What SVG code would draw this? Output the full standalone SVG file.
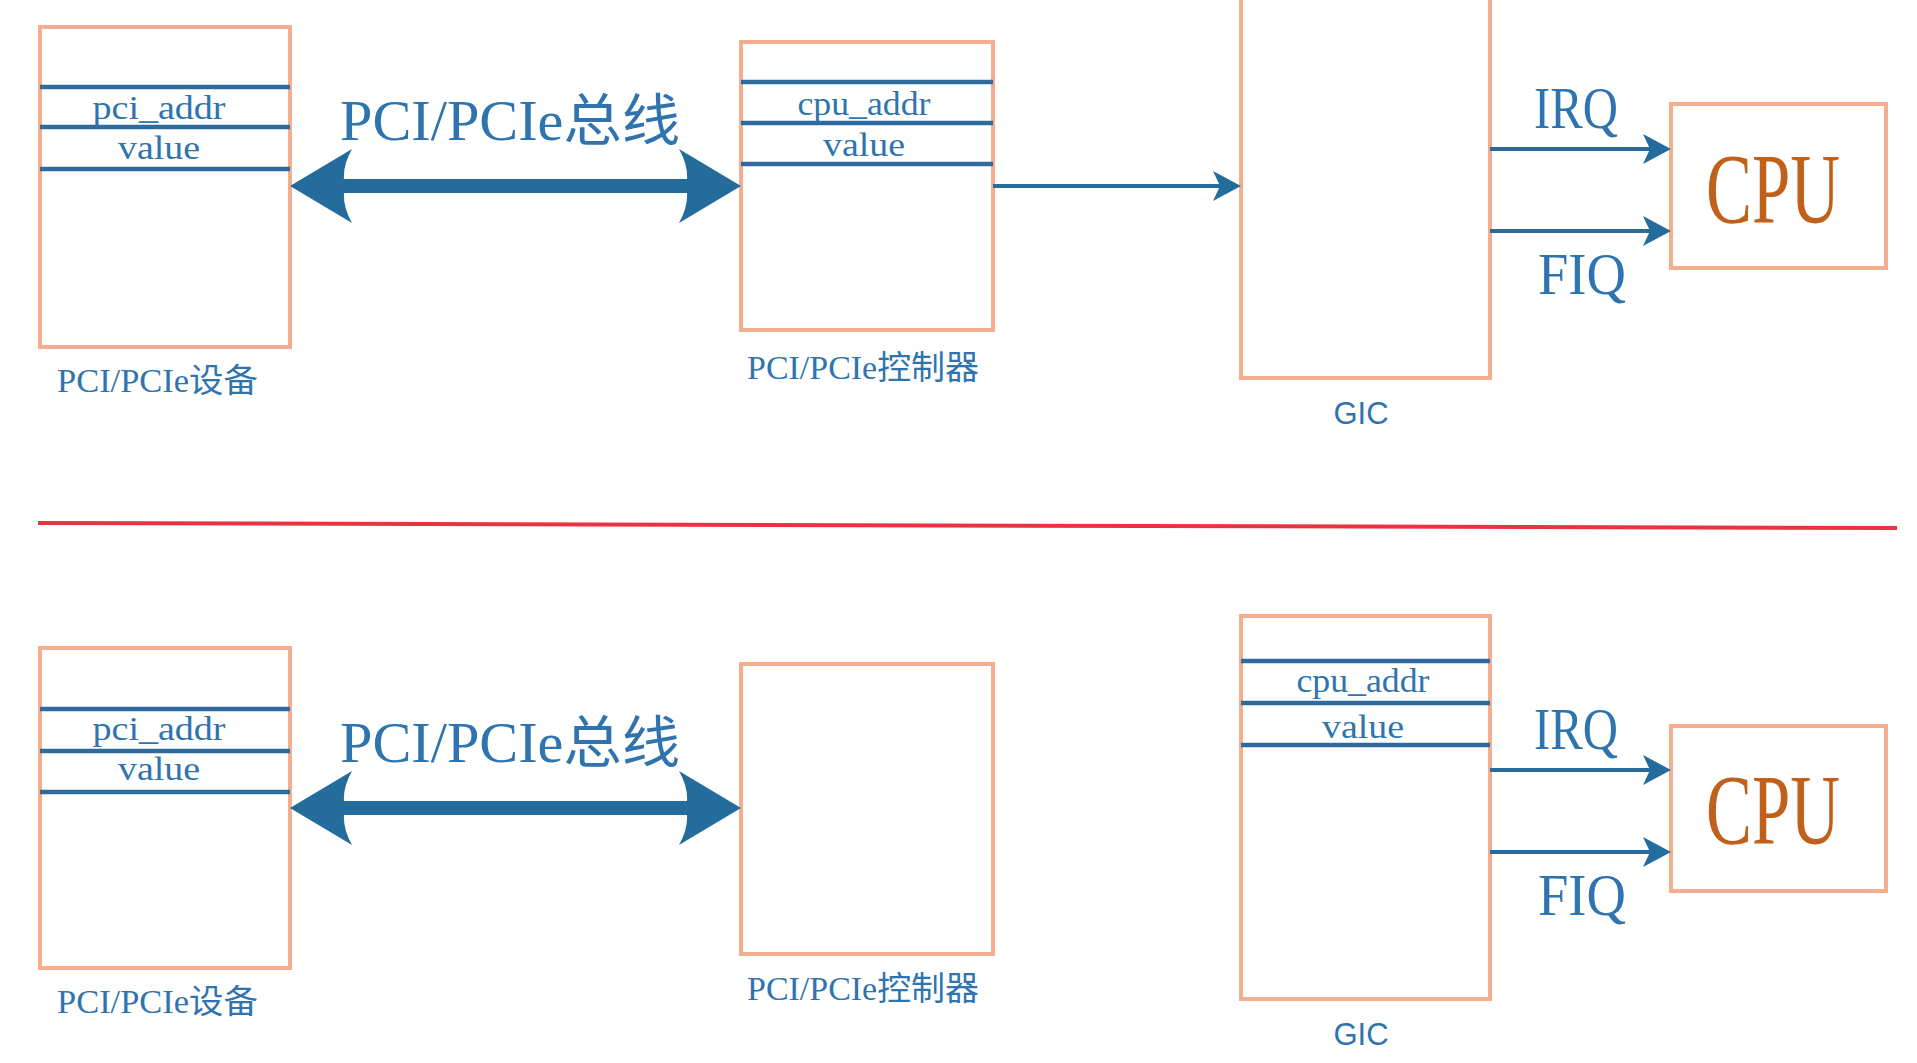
<svg xmlns="http://www.w3.org/2000/svg" width="1917" height="1063" viewBox="0 0 1917 1063">
<style>
.box{fill:#fff;stroke:#F4AE8E;stroke-width:4}
.reg{stroke:#2E6B9C;stroke-width:4.5}
.wire{stroke:#2A6B9D;stroke-width:4;fill:none}
.head{fill:#236C9C}
.t{font-family:"Liberation Serif","Noto Sans CJK SC",serif;fill:#2F74AE}
.cjk{font-family:"Liberation Serif","Noto Sans CJK SC",sans-serif;fill:#2F74AE}
.gic{font-family:"Liberation Sans",Arial,sans-serif;fill:#2F74AE;font-size:31px}
.cpu{font-family:"Liberation Serif",serif;fill:#C0601A;font-size:100px}
</style>
<defs>
<path id="dbl" d="M290,186 L352,149 Q343,165 344,179 L687,179 Q688,165 679,149 L741,186 L679,223 Q688,207 687,193 L344,193 Q343,207 352,223 Z"/>
<path id="ah" d="M0,0 L-28,-15 L-21,0 L-28,15 Z"/>
</defs>

<!-- separator -->
<line x1="38" y1="523" x2="1897" y2="528" stroke="#EA3340" stroke-width="4"/>

<!-- ===== TOP ===== -->
<g id="top-device">
<rect class="box" x="40" y="27" width="250" height="320"/>
<line class="reg" x1="40" y1="87" x2="290" y2="87"/>
<line class="reg" x1="40" y1="127" x2="290" y2="127"/>
<line class="reg" x1="40" y1="169" x2="290" y2="169"/>
<text class="t" x="159" y="119" font-size="33" text-anchor="middle" textLength="133" lengthAdjust="spacingAndGlyphs">pci_addr</text>
<text class="t" x="159" y="159" font-size="33" text-anchor="middle" textLength="82" lengthAdjust="spacingAndGlyphs">value</text>
<text class="cjk" x="57" y="392" font-size="33" textLength="201" lengthAdjust="spacingAndGlyphs">PCI/PCIe设备</text>
</g>

<g id="top-controller">
<rect class="box" x="741" y="42" width="252" height="288"/>
<line class="reg" x1="741" y1="82" x2="993" y2="82"/>
<line class="reg" x1="741" y1="123" x2="993" y2="123"/>
<line class="reg" x1="741" y1="164" x2="993" y2="164"/>
<text class="t" x="864" y="115" font-size="33" text-anchor="middle" textLength="133" lengthAdjust="spacingAndGlyphs">cpu_addr</text>
<text class="t" x="864" y="156" font-size="33" text-anchor="middle" textLength="82" lengthAdjust="spacingAndGlyphs">value</text>
<text class="cjk" x="747" y="379" font-size="33" textLength="232" lengthAdjust="spacingAndGlyphs">PCI/PCIe控制器</text>
</g>

<g id="top-gic">
<rect class="box" x="1241" y="-10" width="249" height="388"/>
<text class="gic" x="1361" y="424" text-anchor="middle">GIC</text>
</g>

<g id="top-cpu">
<rect class="box" x="1671" y="104" width="215" height="164"/>
<text class="cpu" x="1773" y="222" text-anchor="middle" textLength="134" lengthAdjust="spacingAndGlyphs">CPU</text>
</g>

<g id="top-connectors">
<use href="#dbl" class="head"/>
<text class="cjk" x="340" y="140" font-size="56" textLength="340" lengthAdjust="spacingAndGlyphs">PCI/PCIe总线</text>
<line class="wire" x1="993" y1="186" x2="1225" y2="186"/>
<use href="#ah" class="head" transform="translate(1241,186)"/>
<line class="wire" x1="1490" y1="149" x2="1655" y2="149"/>
<use href="#ah" class="head" transform="translate(1671,149)"/>
<line class="wire" x1="1490" y1="231" x2="1655" y2="231"/>
<use href="#ah" class="head" transform="translate(1671,231)"/>
<text class="t" x="1534" y="128" font-size="60" textLength="84" lengthAdjust="spacingAndGlyphs">IRQ</text>
<text class="t" x="1538" y="294" font-size="60" textLength="88" lengthAdjust="spacingAndGlyphs">FIQ</text>
</g>

<!-- ===== BOTTOM ===== -->
<g id="bottom-device">
<rect class="box" x="40" y="648" width="250" height="320"/>
<line class="reg" x1="40" y1="709" x2="290" y2="709"/>
<line class="reg" x1="40" y1="751" x2="290" y2="751"/>
<line class="reg" x1="40" y1="792" x2="290" y2="792"/>
<text class="t" x="159" y="740" font-size="33" text-anchor="middle" textLength="133" lengthAdjust="spacingAndGlyphs">pci_addr</text>
<text class="t" x="159" y="780" font-size="33" text-anchor="middle" textLength="82" lengthAdjust="spacingAndGlyphs">value</text>
<text class="cjk" x="57" y="1013" font-size="33" textLength="201" lengthAdjust="spacingAndGlyphs">PCI/PCIe设备</text>
</g>

<g id="bottom-controller">
<rect class="box" x="741" y="664" width="252" height="290"/>
<text class="cjk" x="747" y="1000" font-size="33" textLength="232" lengthAdjust="spacingAndGlyphs">PCI/PCIe控制器</text>
</g>

<g id="bottom-gic">
<rect class="box" x="1241" y="616" width="249" height="383"/>
<line class="reg" x1="1241" y1="661" x2="1490" y2="661"/>
<line class="reg" x1="1241" y1="703" x2="1490" y2="703"/>
<line class="reg" x1="1241" y1="745" x2="1490" y2="745"/>
<text class="t" x="1363" y="692" font-size="33" text-anchor="middle" textLength="133" lengthAdjust="spacingAndGlyphs">cpu_addr</text>
<text class="t" x="1363" y="738" font-size="33" text-anchor="middle" textLength="82" lengthAdjust="spacingAndGlyphs">value</text>
<text class="gic" x="1361" y="1045" text-anchor="middle">GIC</text>
</g>

<g id="bottom-cpu">
<rect class="box" x="1671" y="726" width="215" height="165"/>
<text class="cpu" x="1773" y="843" text-anchor="middle" textLength="134" lengthAdjust="spacingAndGlyphs">CPU</text>
</g>

<g id="bottom-connectors">
<use href="#dbl" class="head" transform="translate(0,622)"/>
<text class="cjk" x="340" y="762" font-size="56" textLength="340" lengthAdjust="spacingAndGlyphs">PCI/PCIe总线</text>
<line class="wire" x1="1490" y1="770" x2="1655" y2="770"/>
<use href="#ah" class="head" transform="translate(1671,770)"/>
<line class="wire" x1="1490" y1="852" x2="1655" y2="852"/>
<use href="#ah" class="head" transform="translate(1671,852)"/>
<text class="t" x="1534" y="749" font-size="60" textLength="84" lengthAdjust="spacingAndGlyphs">IRQ</text>
<text class="t" x="1538" y="915" font-size="60" textLength="88" lengthAdjust="spacingAndGlyphs">FIQ</text>
</g>
</svg>
